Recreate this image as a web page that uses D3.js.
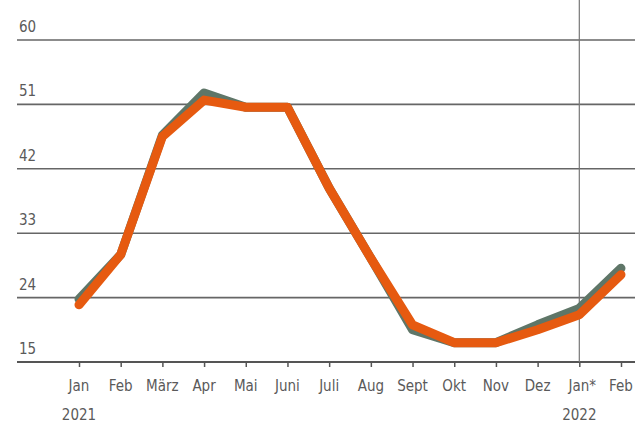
<!DOCTYPE html>
<html><head><meta charset="utf-8">
<script src="https://cdn.jsdelivr.net/npm/d3@7"></script>
<style>
html,body{margin:0;padding:0;background:#fff;overflow:hidden}
text{font-family:"Liberation Sans Narrow","DejaVu Sans Condensed","Roboto Condensed",sans-serif;fill:#5a5a5a}
</style></head><body>
<svg id="c" width="635" height="427"></svg>
<script>
const months = ["Jan","Feb","März","Apr","Mai","Juni","Juli","Aug","Sept","Okt","Nov","Dez","Jan*","Feb"];
const yearLabels = [{i:0,label:"2021"},{i:12,label:"2022"}];
const yTicks = [15,24,33,42,51,60];
const grayValues = [23.8,30.0,46.7,52.6,50.6,50.6,39.3,29.5,19.5,17.7,17.7,20.2,22.5,28.1];
const orangeValues = [23.0,30.0,46.5,51.6,50.6,50.6,39.3,29.5,20.2,17.7,17.7,19.5,21.6,27.2];

const svg = d3.select("#c");
const x = d3.scaleLinear().domain([0,13]).range([79,621]);
const y = d3.scaleLinear().domain([15,60]).range([362,40]);

svg.append("g").selectAll("line").data(yTicks).join("line")
  .attr("x1",17).attr("x2",635)
  .attr("y1",d=>y(d)).attr("y2",d=>y(d))
  .attr("stroke",d=>d===15?"#555":"#666").attr("stroke-width",d=>d===15?2:1.6);

svg.append("g").selectAll("text").data(yTicks).join("text")
  .attr("x",19).attr("y",d=>y(d)-8)
  .attr("font-size",15).text(d=>d);

svg.append("line").attr("x1",x(12)).attr("x2",x(12)).attr("y1",0).attr("y2",y(15))
  .attr("stroke","#777").attr("stroke-width",1.2);

const xAxis = d3.axisBottom(x).tickValues(d3.range(14)).tickSize(5).tickFormat("");
const gx = svg.append("g").attr("transform",`translate(0,${y(15)})`).call(xAxis);
gx.select(".domain").remove();
gx.selectAll(".tick line").attr("stroke","#555").attr("stroke-width",1.5);

svg.append("g").selectAll("text").data(months).join("text")
  .attr("x",(d,i)=>x(i) + (d.endsWith("*")?3:0)).attr("y",391).attr("text-anchor","middle")
  .attr("font-size",15).text(d=>d);

svg.append("g").selectAll("text").data(yearLabels).join("text")
  .attr("x",d=>x(d.i)).attr("y",420).attr("text-anchor","middle")
  .attr("font-size",15).text(d=>d.label);

const line = d3.line().x((d,i)=>x(i)).y(d=>y(d));
svg.append("path").datum(grayValues).attr("d",line)
  .attr("fill","none").attr("stroke","#5f7668").attr("stroke-width",9)
  .attr("stroke-linejoin","round").attr("stroke-linecap","round");
svg.append("path").datum(orangeValues).attr("d",line)
  .attr("fill","none").attr("stroke","#e65a10").attr("stroke-width",9)
  .attr("stroke-linejoin","round").attr("stroke-linecap","round");
</script></body></html>
